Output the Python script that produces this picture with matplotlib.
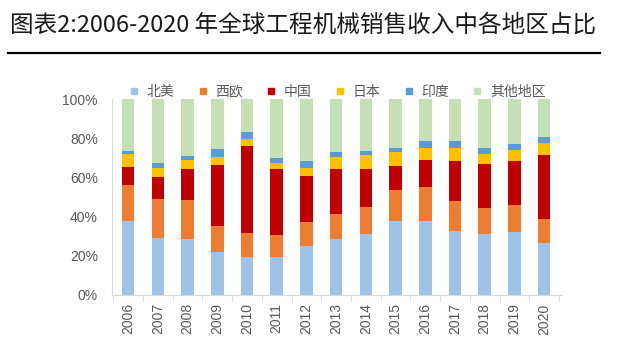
import matplotlib.pyplot as plt
import numpy as np
from matplotlib.lines import Line2D

plt.rcParams['font.family'] = ['Noto Sans CJK SC', 'DejaVu Sans']

years = [str(y) for y in range(2006, 2021)]
regions = ['北美', '西欧', '中国', '日本', '印度', '其他地区']
colors = ['#9DC3E6', '#ED7D31', '#C00000', '#FFC000', '#5B9BD5', '#C5E0B4']

north_america = [38.0, 29.1, 28.6, 21.8, 19.4, 19.6, 25.2, 28.4, 31.1, 37.9, 37.9, 32.8, 31.1, 32.3, 26.7]
west_europe = [18.4, 19.7, 19.9, 13.4, 12.4, 11.2, 11.9, 12.9, 13.6, 15.7, 17.4, 15.2, 13.5, 13.8, 11.9]
china = [9.2, 11.2, 15.6, 31.1, 44.2, 33.3, 23.6, 23.0, 19.4, 12.4, 13.6, 20.2, 22.2, 22.3, 32.8]
japan = [6.4, 5.1, 4.8, 4.3, 3.6, 3.1, 4.4, 6.3, 7.3, 7.0, 6.3, 7.0, 5.1, 5.4, 6.0]
india = [1.7, 2.1, 2.0, 3.7, 3.7, 3.0, 3.1, 2.2, 2.2, 2.3, 3.5, 3.2, 3.4, 3.1, 3.2]
other = [26.3, 32.8, 29.1, 25.7, 16.7, 29.8, 31.8, 27.2, 26.4, 24.7, 21.3, 21.6, 24.7, 23.1, 19.4]

series = [north_america, west_europe, china, japan, india, other]

fig = plt.figure(figsize=(6.21, 3.58), dpi=100)
ax = fig.add_axes([0.180, 0.176, 0.725, 0.547])

x = np.arange(len(years))
bottom = np.zeros(len(years))
for vals, c, name in zip(series, colors, regions):
    v = np.array(vals)
    ax.bar(x, v, 0.42, bottom=bottom, color=c, label=name)
    bottom += v

ax.set_xlim(-0.55, 14.6)
ax.set_ylim(0, 100)
ax.set_yticks(range(0, 101, 20))
ax.set_yticklabels([f'{v}%' for v in range(0, 101, 20)],
                   family='Liberation Sans', fontsize=10, color='#595959')
ax.set_xticks(x)
ax.set_xticklabels(years, rotation=90, family='Liberation Sans', fontsize=10, color='#595959')
ax.set_xticks(np.arange(-0.5, 15, 1), minor=True)
ax.tick_params(axis='x', which='major', length=0, pad=6)
ax.tick_params(axis='x', which='minor', length=4, color='#D9D9D9')
ax.tick_params(axis='y', length=0, pad=10)
for s in ['top', 'right']:
    ax.spines[s].set_visible(False)
for s in ['left', 'bottom']:
    ax.spines[s].set_color('#D9D9D9')

handles = [Line2D([], [], marker='s', linestyle='', markersize=5, color=c) for c in colors]
ax.legend(handles, regions, loc='lower center', bbox_to_anchor=(0.5, 0.975), ncol=6,
          frameon=False, fontsize=10, handlelength=0.8, handletextpad=0.5,
          columnspacing=1.65, labelcolor='#595959', borderaxespad=0)

fig.text(0.016, 0.93, '图表2:2006-2020 年全球工程机械销售收入中各地区占比',
         fontsize=17, va='center', ha='left', color='#1a1a1a')
fig.add_artist(Line2D([8 / 621, 600 / 621], [0.852, 0.852], color='black', lw=1.6))

fig.savefig('out.png', dpi=100)
